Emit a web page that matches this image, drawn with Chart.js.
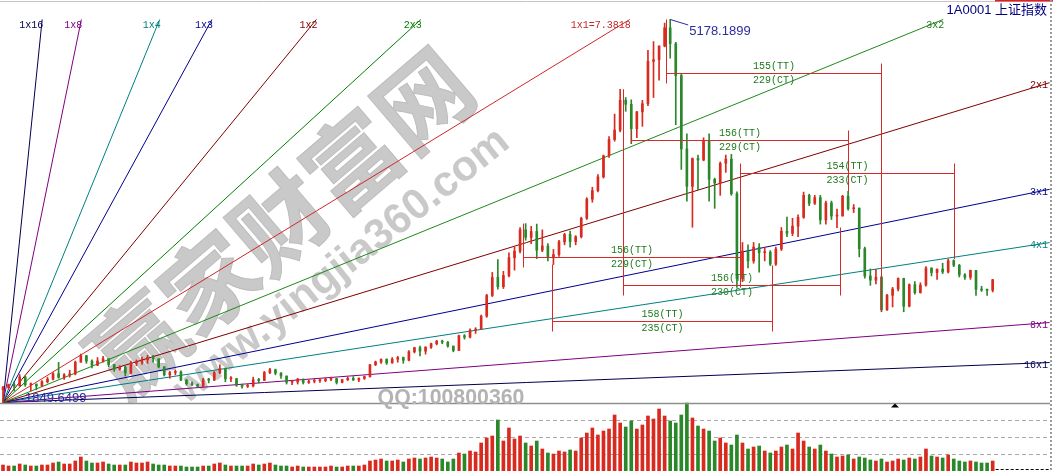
<!DOCTYPE html>
<html><head><meta charset="utf-8"><title>上证指数 江恩角度线</title>
<script src="https://cdn.jsdelivr.net/npm/chart.js@4.4.1/dist/chart.umd.min.js"></script>
<style>html,body{margin:0;padding:0;background:#fff;overflow:hidden;}canvas{display:block;}</style>
</head><body>
<canvas id="c" width="1053" height="471"></canvas>
<script>
// ================= DATA =================
const symbolTitle = '1A0001 上证指数';
const barStep = 4;            // trading days per drawn candle
const firstOpen = 1963;
const closes = [
1979,2006,1995,2072,2004,2010,1993,2030,2052,2100,
2068,2090,2098,2200,2256,2210,2174,2210,2230,2180,
2140,2155,2106,2190,2200,2220,2240,2230,2160,2090,
2110,2116,2045,2013,2005,1991,2045,2044,2110,2145,
2056,2057,1999,1990,1993,2047,2041,2110,2134,2105,
2080,2026,2028,2052,2024,2035,2039,2040,2052,2058,
2024,2048,2060,2046,2059,2075,2178,2201,2224,2194,
2226,2240,2217,2290,2326,2296,2330,2360,2382,2374,
2340,2302,2430,2418,2478,2487,2600,2780,2937,2856,
2953,3108,3165,3350,3285,3336,3173,3210,3115,3135,
3246,3310,3248,3290,3450,3617,3691,3810,3994,4135,
4217,4476,4441,4229,4375,4446,4814,4828,4947,5106,
4967,4690,4053,3728,3970,3957,4124,3789,3757,3928,
3965,3664,2927,3166,3080,3200,3152,3156,3052,3183,
3338,3320,3382,3459,3650,3580,3630,3436,3584,3470,
3470,3642,3533,3539,3186,2949,2913,2938,2655,2781,
2836,2927,2687,2874,2804,2870,3018,2979,3009,2984,
3082,3042,2959,2938,2998,2832,2827,2825,2917];
const highs = [
1990,2010,2030,2092,2080,2020,2010,2040,2070,2110,
2198,2100,2130,2210,2270,2260,2220,2240,2250,2230,
2180,2170,2165,2210,2220,2245,2260,2260,2230,2160,
2120,2130,2125,2050,2030,2010,2060,2060,2120,2177,
2150,2075,2060,2010,2010,2070,2060,2120,2146,2140,
2110,2080,2040,2060,2055,2045,2050,2060,2062,2070,
2060,2050,2070,2075,2065,2080,2180,2210,2230,2230,
2240,2250,2245,2300,2330,2340,2335,2365,2390,2392,
2380,2340,2435,2440,2490,2500,2610,2790,2980,3091,
2990,3150,3200,3370,3404,3380,3400,3350,3230,3180,
3260,3320,3340,3300,3460,3630,3720,3830,4000,4160,
4356,4572,4500,4480,4380,4475,4910,4986,4950,5147,
5178,4980,4710,4184,3975,4000,4150,4185,3800,3940,
4000,4006,3680,3240,3220,3240,3230,3200,3170,3200,
3370,3460,3450,3480,3678,3660,3650,3650,3600,3600,
3530,3650,3684,3570,3540,3200,3010,3008,2950,2790,
2850,2933,2930,2880,2900,2890,3030,3020,3010,3060,
3097,3090,3050,2970,3000,2998,2860,2835,2920];
const lows = [
1849,1965,1950,1990,1990,1950,1960,1990,2020,2045,
2060,2050,2070,2090,2200,2190,2150,2170,2200,2160,
2120,2130,2080,2100,2170,2180,2190,2200,2150,2080,
2060,2090,2040,2000,1995,1984,1985,2020,2040,2100,
2030,2030,1990,1974,1980,1985,2020,2040,2100,2090,
2060,2010,2005,2010,2010,2015,2020,2025,2030,2040,
2010,2020,2040,2040,2030,2050,2070,2170,2190,2180,
2190,2200,2190,2210,2280,2255,2270,2320,2350,2360,
2330,2290,2300,2400,2410,2450,2490,2590,2770,2834,
2840,2940,3000,3150,3260,3230,3100,3160,3080,3049,
3120,3220,3200,3220,3280,3440,3590,3680,3800,3980,
4120,4200,4380,4099,4150,4250,4430,4500,4651,4940,
4842,4264,3875,3600,3373,3700,3950,3600,3537,3650,
3850,3650,2850,2900,3020,3060,2983,3080,3040,3040,
3170,3290,3300,3290,3450,3560,3570,3400,3400,3440,
3370,3470,3520,3500,3115,2930,2868,2880,2638,2650,
2680,2820,2638,2680,2790,2800,2860,2950,2920,2970,
2975,3030,2940,2920,2920,2780,2815,2780,2810];
const volumes = [
120,100,100,140,120,100,100,120,120,160,
180,140,140,200,280,200,160,160,180,140,
120,120,120,180,160,160,180,140,120,120,
100,100,100,80,80,80,100,100,140,160,
120,100,100,100,100,140,120,140,160,120,
100,100,80,100,80,80,80,80,80,100,
80,80,100,100,100,120,200,220,240,200,
200,220,180,240,260,240,260,280,260,240,
180,240,360,340,400,380,560,660,700,1020,
600,860,640,700,560,500,600,440,360,340,
400,380,420,400,660,760,860,720,800,840,
1120,960,880,1000,840,920,1100,1040,1240,1100,
1000,960,1120,1360,1060,900,840,800,600,660,
560,520,720,560,440,480,500,400,360,400,
480,520,440,760,600,480,440,520,400,340,
280,300,320,240,280,260,220,200,240,180,
200,240,220,260,240,280,440,300,280,260,
320,240,200,180,200,180,160,160,200];

const lowPoint  = {bar: 0,   price: 1849.6499};
const peakPoint = {bar: 480, price: 5178.1899};
const gannUnit = 7.3818;   // 1x1 points per bar
const fanLabels = ['1x16','1x8','1x4','1x3','1x2','2x3','1x1=7.3818','3x2','2x1','3x1','4x1','8x1','16x1'];
const fanRatios = [16, 8, 4, 3, 2, 3/2, 1, 2/3, 1/2, 1/3, 1/4, 1/8, 1/16];

const boxStart      = [477, 452, 530, 446, 374, 395];
const boxTT         = [155, 156, 154, 156, 156, 158];
const boxCT         = [229, 229, 233, 230, 229, 235];
const boxLevel      = [4713, 4131, 3844, 2871, 3114, 2558];
const boxStartPivot = [5178, 4099, 2850, 4572, 3404, 3049];
const boxEndPivot   = [2638, 3684, 3097, 3370, 2850, 3040];

const watermarkTexts = ['赢家财富网', 'www.yingjia360.com', 'QQ:100800360'];

// ================= AXIS RANGES =================
const barMin = -2.16, barMax = 755.4, fanEndBar = 753;
const priceMin = 1254.4, priceMax = 5347.4;
const volPanelTop = 1360, volMax = 9420;

// ================= STYLES =================
const UP = '#d82a1e', DOWN = '#2b882a';
const fanColors = ['#000050','#800080','#008080','#000090','#800000','#008000','#d02828',
                   '#1e8a1e','#800000','#000090','#008080','#800080','#000050'];
const fanTextColors = ['#000050','#800080','#008080','#000090','#800000','#008000','#c02828',
                   '#1e7a1e','#800000','#000090','#008080','#800080','#000050'];
const BOX_RED = '#d42a2a', BOX_TEXT = '#1d7a1d', LABEL_BLUE = '#2d2d9e';

// ================= DERIVED =================
const bars = closes.map((c, i) => i * barStep);
const opens = closes.map((c, i) => i === 0 ? firstOpen : closes[i - 1]);
const candleColors = closes.map((c, i) => c >= opens[i] ? UP : DOWN);

const fanDatasets = fanRatios.map((r, i) => {
  const slope = r * gannUnit;
  const capBar = (peakPoint.price - lowPoint.price) / slope;
  const endBar = Math.min(capBar, fanEndBar);
  return {
    type: 'line', label: fanLabels[i], yAxisID: 'y',
    data: [{x: lowPoint.bar, y: lowPoint.price}, {x: lowPoint.bar + endBar, y: lowPoint.price + slope * endBar}],
    borderColor: fanColors[i], borderWidth: 1, pointRadius: 0, fill: false, tension: 0, order: 3,
    capped: capBar < fanEndBar
  };
});

function rotText(ctx, text, cx, cy, deg, family, targetW, fill, stroke) {
  ctx.save();
  ctx.translate(cx, cy);
  ctx.rotate(deg * Math.PI / 180);
  ctx.font = 'bold 100px ' + family;
  const w = ctx.measureText(text).width;
  const size = 100 * targetW / w;
  ctx.font = 'bold ' + size.toFixed(1) + 'px ' + family;
  ctx.textAlign = 'center'; ctx.textBaseline = 'middle';
  ctx.fillStyle = fill; ctx.fillText(text, 0, 0);
  if (stroke) { ctx.strokeStyle = stroke; ctx.lineWidth = 1; ctx.strokeText(text, 0, 0); }
  ctx.restore();
}

const overlay = {
  id: 'overlay',
  beforeDraw(chart) {
    const {ctx, width, height} = chart;
    const yv = chart.scales.yv;
    ctx.save();
    ctx.fillStyle = '#fff'; ctx.fillRect(0, 0, width, height);
    ctx.strokeStyle = '#a9a9a9'; ctx.lineWidth = 1; ctx.setLineDash([4, 3]);
    [0.25, 0.5, 0.75].forEach(f => {
      const y = Math.round(yv.getPixelForValue(volPanelTop * f)) + 0.5;
      ctx.beginPath(); ctx.moveTo(0, y); ctx.lineTo(1049, y); ctx.stroke();
    });
    ctx.restore();
  },
  beforeDatasetsDraw(chart) {
    const {ctx} = chart;
    rotText(ctx, watermarkTexts[0], 280, 222, -40.5, '"Noto Sans CJK SC", sans-serif', 470, '#c9c9c9', '#bdbdbd');
    rotText(ctx, watermarkTexts[1], 342, 266, -38.5, '"Liberation Sans", Arial, sans-serif', 415, '#c9c9c9', null);
  },
  afterDatasetsDraw(chart) {
    const {ctx} = chart;
    const xs = chart.scales.x, ys = chart.scales.y, yv = chart.scales.yv;
    const W = chart.width, H = chart.height;
    ctx.save();
    const seg = (x1, y1, x2, y2) => { ctx.beginPath(); ctx.moveTo(x1, y1); ctx.lineTo(x2, y2); ctx.stroke(); };

    // frame
    ctx.strokeStyle = '#c4c4c4'; ctx.lineWidth = 1; seg(0, 1.5, W, 1.5);
    ctx.fillStyle = '#e02020'; ctx.fillRect(995, 0, W - 995, 1.5);
    const sepY = Math.round(yv.getPixelForValue(volPanelTop)) + 0.5;
    ctx.strokeStyle = '#8f8f8f'; ctx.lineWidth = 1.5; seg(0, sepY, 1050, sepY);
    ctx.strokeStyle = '#9a9a9a'; ctx.lineWidth = 2; ctx.setLineDash([2, 2]); seg(1051, 0, 1051, H);
    ctx.setLineDash([3, 2]); ctx.strokeStyle = '#000'; ctx.lineWidth = 1;
    const lastX = xs.getPixelForValue(bars[bars.length - 1]) + 3;
    seg(lastX, H - 1.5, 1050, H - 1.5);
    ctx.setLineDash([]);
    // marker triangle
    ctx.fillStyle = '#000';
    ctx.beginPath(); ctx.moveTo(895, sepY); ctx.lineTo(899, sepY + 4); ctx.lineTo(891, sepY + 4); ctx.closePath(); ctx.fill();

    // QQ watermark
    rotText(ctx, watermarkTexts[2], 451, 398, 0, '"Liberation Sans", Arial, sans-serif', 147, '#b3b3b3', null);

    // TT / CT boxes
    ctx.strokeStyle = BOX_RED; ctx.lineWidth = 1;
    ctx.font = '10px "Liberation Mono", monospace';
    ctx.textAlign = 'center'; ctx.textBaseline = 'middle';
    boxStart.forEach((s, i) => {
      const e = s + boxTT[i];
      const x1 = Math.round(xs.getPixelForValue(s)) + 0.5;
      const x2 = Math.round(xs.getPixelForValue(e)) + 0.5;
      const yl = Math.round(ys.getPixelForValue(boxLevel[i])) + 0.5;
      seg(x1, yl, x2, yl);
      [[x1, boxStartPivot[i]], [x2, boxEndPivot[i]]].forEach(([px, p]) => {
        const yp = ys.getPixelForValue(p);
        const ext = yp > yl ? yl - 10 : yl + 10;
        seg(px, ext, px, yp);
      });
      ctx.fillStyle = BOX_TEXT;
      ctx.fillText(boxTT[i] + '(TT)', (x1 + x2) / 2, yl - 7);
      ctx.fillText(boxCT[i] + '(CT)', (x1 + x2) / 2, yl + 7);
    });

    // fan labels
    ctx.font = '10px "Liberation Mono", monospace';
    ctx.textAlign = 'right'; ctx.textBaseline = 'middle';
    chart.data.datasets.forEach((ds, di) => {
      if (ds.type !== 'line') return;
      const k = fanLabels.indexOf(ds.label);
      const pt = chart.getDatasetMeta(di).data[1];
      ctx.fillStyle = fanTextColors[k];
      if (ds.capped) ctx.fillText(ds.label, pt.x + 1, pt.y + 6);
      else ctx.fillText(ds.label, 1048, pt.y + 3);
    });

    // peak / low annotations
    ctx.font = '13px "Liberation Sans", Arial, sans-serif';
    ctx.fillStyle = LABEL_BLUE; ctx.strokeStyle = LABEL_BLUE; ctx.lineWidth = 1;
    const pkx = xs.getPixelForValue(peakPoint.bar), pky = ys.getPixelForValue(peakPoint.price);
    seg(pkx, pky, pkx + 18, pky + 5.5);
    ctx.textAlign = 'left';
    ctx.fillText(peakPoint.price.toFixed(4), pkx + 19, pky + 12);
    const lox = xs.getPixelForValue(lowPoint.bar), loy = ys.getPixelForValue(lowPoint.price);
    ctx.fillText(lowPoint.price.toFixed(4), lox + 22, loy - 4.5);

    // title
    ctx.font = '13px "Liberation Sans", "Noto Sans CJK SC", sans-serif';
    ctx.fillStyle = '#000080'; ctx.textAlign = 'right';
    ctx.fillText(symbolTitle, 1047, 10);
    ctx.restore();
  }
};

new Chart(document.getElementById('c'), {
  type: 'bar',
  data: {
    datasets: [
      {type: 'bar', label: 'volume', yAxisID: 'yv', data: bars.map((b, i) => ({x: b, y: volumes[i]})),
       backgroundColor: candleColors, barThickness: 3, grouped: false, order: 5},
      {type: 'bar', label: 'wick', yAxisID: 'y', data: bars.map((b, i) => ({x: b, y: [lows[i], highs[i]]})),
       backgroundColor: candleColors, barThickness: 1, grouped: false, order: 2},
      {type: 'bar', label: 'body', yAxisID: 'y',
       data: bars.map((b, i) => ({x: b, y: [Math.min(opens[i], closes[i]), Math.max(opens[i], closes[i])]})),
       backgroundColor: candleColors, barThickness: 2, minBarLength: 1, grouped: false, order: 1},
      ...fanDatasets
    ]
  },
  options: {
    responsive: false, animation: false, devicePixelRatio: 1,
    layout: {padding: 0},
    plugins: {legend: {display: false}, tooltip: {enabled: false}},
    scales: {
      x: {type: 'linear', min: barMin, max: barMax, offset: false, display: false},
      y: {type: 'linear', min: priceMin, max: priceMax, display: false},
      yv: {type: 'linear', min: 0, max: volMax, display: false, position: 'right'}
    }
  },
  plugins: [overlay]
});
</script>
</body></html>
